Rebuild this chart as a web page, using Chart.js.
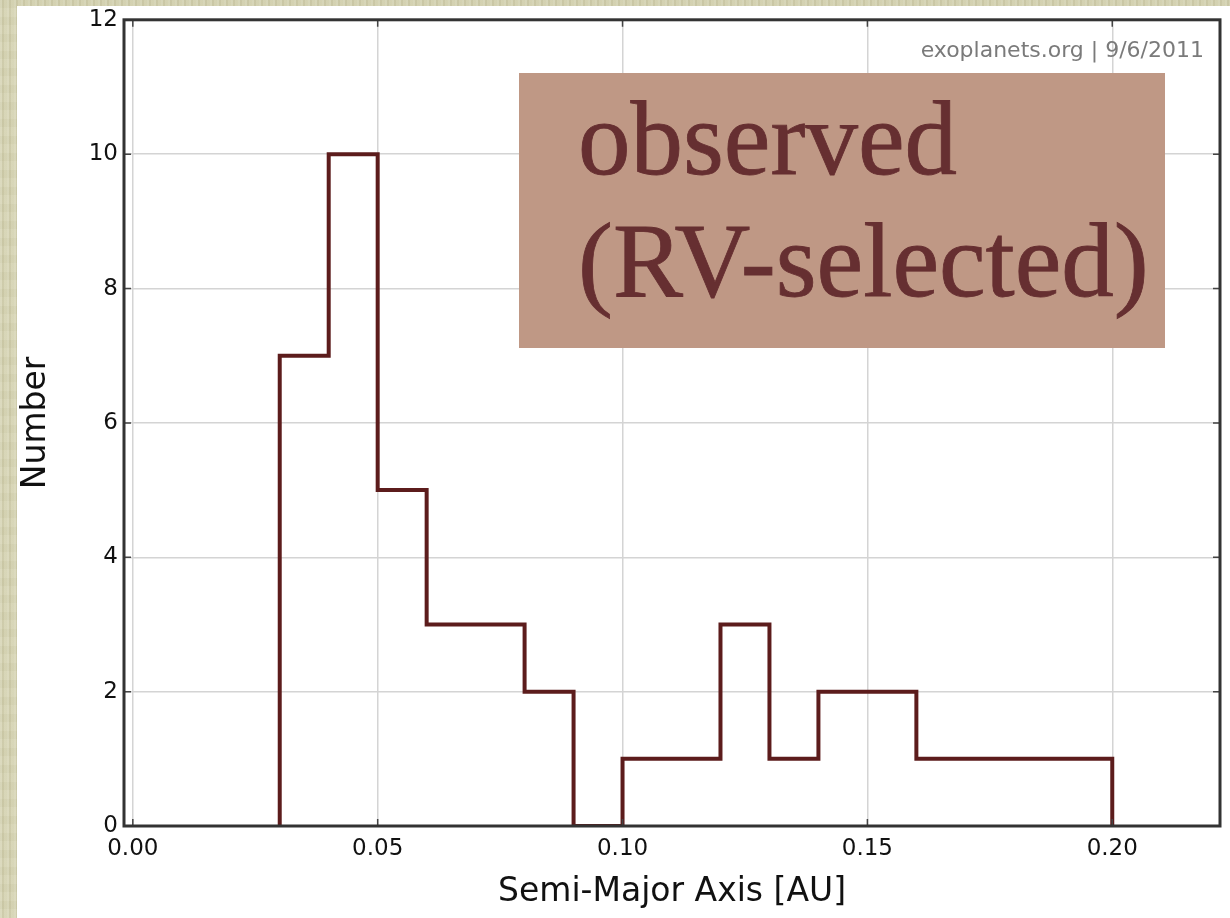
<!DOCTYPE html>
<html>
<head>
<meta charset="utf-8">
<script src="https://cdn.jsdelivr.net/npm/chart.js@4"></script>
<style>
html, body { margin: 0; padding: 0; }
body {
    width: 1230px; height: 918px; overflow: hidden; position: relative;
    background-color: #d5d3b2;
    background-image:
        repeating-linear-gradient(90deg, rgba(255,255,255,0.12) 0 2px, rgba(110,100,60,0.08) 2px 4px, rgba(255,255,255,0.04) 4px 7px),
        repeating-linear-gradient(0deg, rgba(255,255,255,0.04) 0 9px, rgba(110,100,60,0.03) 9px 17px);
}
#panel { position: absolute; left: 17px; top: 6px; right: 0; bottom: 0; background: #fff; }
#wrap { position: absolute; left: 0; top: 0; width: 1230px; height: 918px; }
#label {
    position: absolute; left: 519px; top: 73px; width: 646px; height: 275px;
    background: #bf9885; color: #662f31;
    font-family: "Liberation Serif", serif; font-size: 105px;
    -webkit-text-stroke: 0.8px #662f31;
}
#label span { position: absolute; left: 59px; line-height: 1; white-space: nowrap; }
</style>
</head>
<body>
<div id="panel"></div>
<div id="wrap"><canvas id="histChart"></canvas></div>
<div id="label">
    <span style="top:13px">observed</span>
    <span style="top:135px">(RV-selected)</span>
</div>
<script>
// Bin edges [AU] and planet counts per bin
const binEdges = [0.03, 0.04, 0.05, 0.06, 0.07, 0.08, 0.09, 0.10, 0.11, 0.12,
                  0.13, 0.14, 0.15, 0.16, 0.17, 0.18, 0.19, 0.20];
const binCounts = [7, 10, 5, 3, 3, 2, 0, 1, 1, 3, 1, 2, 2, 1, 1, 1, 1];

// Axis ticks
const xTickValues = [0, 0.05, 0.10, 0.15, 0.20];
const yTickValues = [0, 2, 4, 6, 8, 10, 12];

const creditText = 'exoplanets.org | 9/6/2011';

// step outline: each point sits at the right edge of its bin
let outline = [{ x: binEdges[0], y: 0 }];
binCounts.forEach((c, i) => {
    outline.push({ x: binEdges[i + 1], y: c });
});
outline.push({ x: binEdges[binEdges.length - 1], y: 0 });

// frame, inner tick marks and the credit line
const framePlugin = {
    id: 'frame',
    afterDatasetsDraw(chart) {
        const ctx = chart.ctx;
        const a = chart.chartArea;
        const xs = chart.scales.x, ys = chart.scales.y;
        ctx.save();
        ctx.strokeStyle = '#444';
        ctx.lineWidth = 1.5;
        xTickValues.forEach(v => {
            const px = xs.getPixelForValue(v);
            ctx.beginPath();
            ctx.moveTo(px, a.bottom); ctx.lineTo(px, a.bottom - 7);
            ctx.moveTo(px, a.top); ctx.lineTo(px, a.top + 7);
            ctx.stroke();
        });
        yTickValues.forEach(v => {
            const py = ys.getPixelForValue(v);
            ctx.beginPath();
            ctx.moveTo(a.left, py); ctx.lineTo(a.left + 7, py);
            ctx.moveTo(a.right, py); ctx.lineTo(a.right - 7, py);
            ctx.stroke();
        });
        ctx.strokeStyle = '#333';
        ctx.lineWidth = 3;
        ctx.strokeRect(a.left, a.top, a.right - a.left, a.bottom - a.top);

        ctx.fillStyle = '#7a7a7a';
        ctx.font = '22px "DejaVu Sans"';
        ctx.textAlign = 'right';
        ctx.textBaseline = 'alphabetic';
        ctx.fillText(creditText, a.right - 16, 57);
        ctx.restore();
    }
};

const config = {
    type: 'line',
    data: {
        datasets: [{
            label: 'observed',
            data: outline,
            stepped: 'after',
            borderColor: '#5c1c1c',
            borderWidth: 4,
            pointRadius: 0,
            fill: false,
            clip: 0
        }]
    },
    options: {
        responsive: true,
        maintainAspectRatio: false,
        animation: false,
        layout: { padding: { top: 19, right: 10, left: 0, bottom: 0 } },
        plugins: {
            legend: { display: false },
            tooltip: { enabled: false }
        },
        scales: {
            x: {
                type: 'linear',
                min: -0.0018,
                max: 0.222,
                afterBuildTicks: (scale) => {
                    scale.ticks = xTickValues.map(v => ({ value: v }));
                },
                afterFit: (scale) => { scale.height = 92; },
                grid: { color: '#d4d4d4', lineWidth: 1.5, drawTicks: false },
                border: { display: false },
                ticks: {
                    color: '#111',
                    padding: 9,
                    font: { family: 'DejaVu Sans', size: 23 },
                    callback: (v) => v.toFixed(2)
                },
                title: {
                    display: true,
                    text: 'Semi-Major Axis [AU]',
                    color: '#111',
                    font: { family: 'DejaVu Sans', size: 33 },
                    padding: { top: 0, bottom: 6 }
                }
            },
            y: {
                min: 0,
                max: 12,
                afterBuildTicks: (scale) => {
                    scale.ticks = yTickValues.map(v => ({ value: v }));
                },
                afterFit: (scale) => { scale.width = 124; },
                grid: { color: '#d4d4d4', lineWidth: 1.5, drawTicks: false },
                border: { display: false },
                ticks: {
                    color: '#111',
                    padding: 6,
                    font: { family: 'DejaVu Sans', size: 23 }
                },
                title: {
                    display: true,
                    text: 'Number',
                    color: '#111',
                    font: { family: 'DejaVu Sans', size: 33 },
                    padding: { top: 17, bottom: 0 }
                }
            }
        }
    },
    plugins: [framePlugin]
};

const histChart = new Chart(document.getElementById('histChart'), config);
</script>
</body>
</html>
